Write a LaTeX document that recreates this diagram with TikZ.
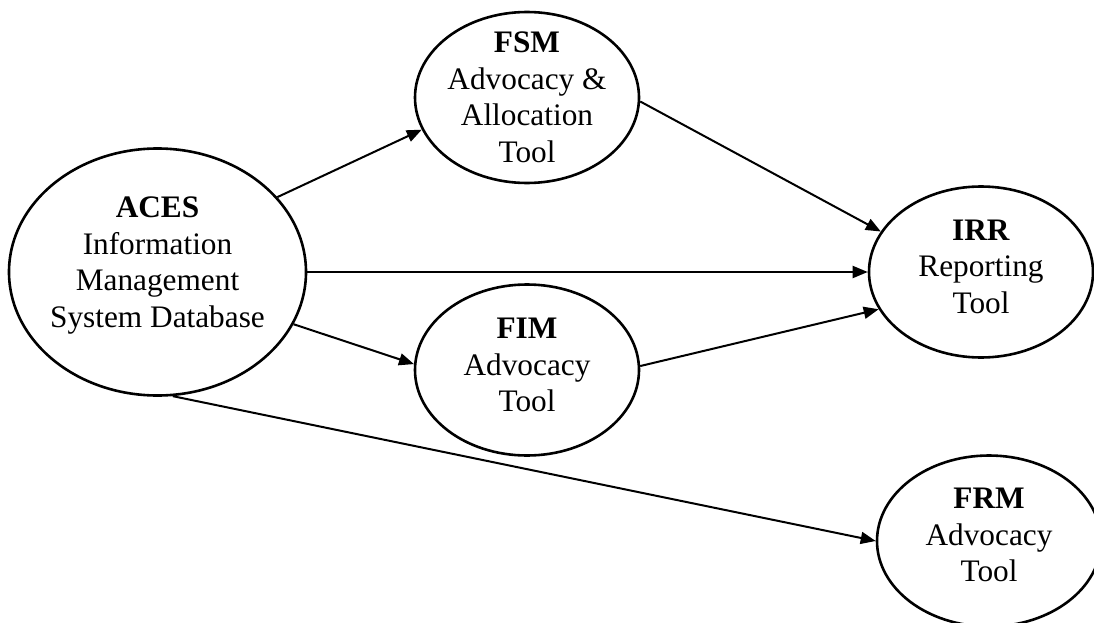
\documentclass[tikz,border=0pt]{standalone}
\usepackage{fontspec}
\setmainfont{Liberation Serif}
\usetikzlibrary{shapes.geometric}
\usetikzlibrary{arrows.meta}
\tikzset{
  tool/.style={draw, ellipse, line width=2.6pt, minimum width=224pt, minimum height=171pt, inner sep=0pt},
  tooltext/.style={align=center, inner sep=0pt, font=\fontsize{31.3}{36.5}\selectfont},
  link/.style={line width=2pt, -{Triangle[length=15pt, width=12pt]}}
}
\begin{document}
\begin{tikzpicture}[x=1pt, y=-1pt]
  \useasboundingbox (0,0) rectangle (1094,623);

  \node [tool, minimum width=297pt, minimum height=247pt] (aces) at (157.5,272) {};
  \node [tool] (fsm) at (527,97.5) {};
  \node [tool] (fim) at (527,370) {};
  \node [tool] (irr) at (981,272) {};
  \node [tool] (frm) at (989,541) {};

  \node [tooltext, yshift=6.7pt] (aces-text) at (aces) {\textbf{ACES}\\Information\\Management\\System Database};
  \node [tooltext] (fsm-text) at (fsm) {\textbf{FSM}\\Advocacy \&\\Allocation\\Tool};
  \node [tooltext, yshift=4.7pt] (fim-text) at (fim) {\textbf{FIM}\\Advocacy\\Tool};
  \node [tooltext, yshift=5.4pt] (irr-text) at (irr) {\textbf{IRR}\\Reporting\\Tool};
  \node [tooltext, yshift=6pt] (frm-text) at (frm) {\textbf{FRM}\\Advocacy\\Tool};

  \draw [link] (aces.32) -- (fsm.197);
  \draw [link] (aces.east) -- (irr.west);
  \draw [link] (aces.339) -- (fim.177);
  \draw [link] (aces.277) -- (frm.west);
  \draw [link] (fsm.358) -- (irr.158);
  \draw [link] (fim.2) -- (irr.200);
\end{tikzpicture}
\end{document}
